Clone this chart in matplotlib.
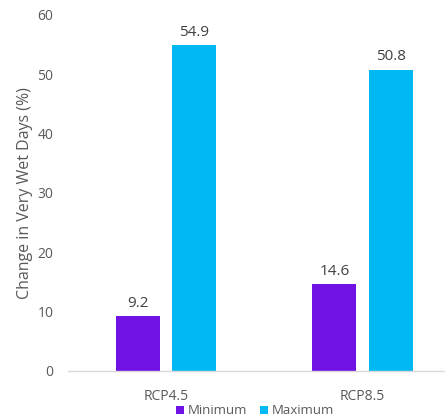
import matplotlib.pyplot as plt
import numpy as np

scenarios = ['RCP4.5', 'RCP8.5']
minimum = [9.2, 14.6]
maximum = [54.9, 50.8]

purple = '#7012E4'
cyan = '#00B8F2'
grey = '#595959'

plt.rcParams['font.family'] = ['Open Sans', 'DejaVu Sans']

fig = plt.figure(figsize=(4.45, 4.2), dpi=100)
ax = fig.add_axes([68 / 445, 49 / 420, 377 / 445, 356 / 420])

x = np.arange(len(scenarios))
w = 0.224
off = 0.143
b1 = ax.bar(x - off, minimum, w, color=purple, label='Minimum')
b2 = ax.bar(x + off, maximum, w, color=cyan, label='Maximum')

for bars, vals in [(b1, minimum), (b2, maximum)]:
    for b, v in zip(bars, vals):
        ax.annotate(f'{v}', (b.get_x() + b.get_width() / 2, v),
                    xytext=(0, 4), textcoords='offset points',
                    ha='center', va='bottom', fontsize=11, color='#404040')

ax.set_xlim(-0.5, 1.42)
ax.set_ylim(0, 60)
ax.set_yticks(range(0, 61, 10))
ax.set_xticks(x)
ax.set_xticklabels(scenarios)
ax.tick_params(axis='both', length=0, colors=grey, labelsize=10)
ax.tick_params(axis='x', pad=13)
ax.tick_params(axis='y', pad=10.5)
for s in ['top', 'right', 'left']:
    ax.spines[s].set_visible(False)
ax.spines['bottom'].set_color('#D9D9D9')
ax.spines['bottom'].set_linewidth(1)

ax.set_ylabel('Change in Very Wet Days (%)', color=grey, fontsize=11.5, labelpad=3)

fig.legend(handles=[b1, b2], loc='center', bbox_to_anchor=(255 / 445, 9 / 420),
           ncol=2, frameon=False, fontsize=9.5, handlelength=0.6, handleheight=0.6,
           handletextpad=0.3, columnspacing=1.0, labelcolor=grey)

fig.savefig('out.png', dpi=100)
